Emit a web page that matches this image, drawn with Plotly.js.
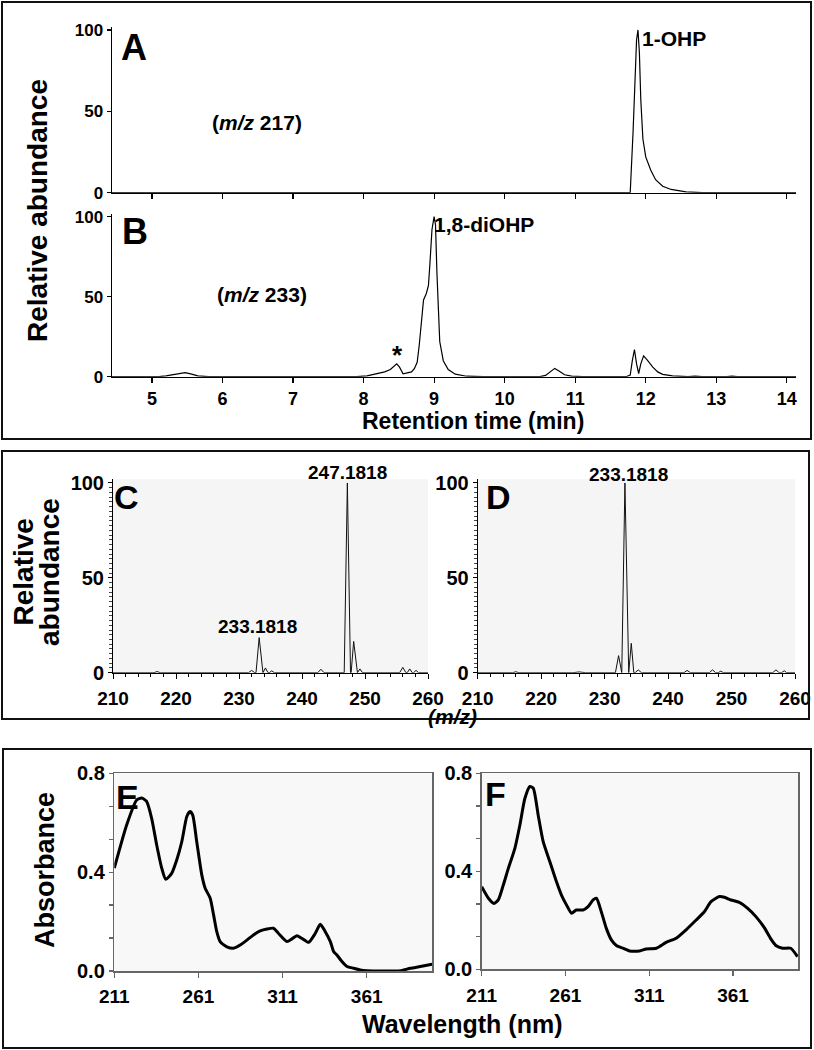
<!DOCTYPE html>
<html><head><meta charset="utf-8">
<script src="https://cdn.plot.ly/plotly-3.0.1.min.js"></script>
<style>html,body{margin:0;padding:0;background:#fff}#chart{width:814px;height:1050px}</style>
</head><body><div id="chart"></div><script>
// ---------- DATA ----------
// Panel A: extracted ion chromatogram m/z 217 (retention time, relative abundance)
const timeA = [4.43, 11.70, 11.78, 11.82, 11.85, 11.87, 11.89, 11.91, 11.93, 11.96, 12.00, 12.07, 12.14, 12.24, 12.36, 12.57, 12.80, 14.13];
const abundA = [0, 0, 0, 37, 76, 94, 100, 86, 57, 33, 22, 14, 8, 4, 2, 0.5, 0, 0];
// Panel B: extracted ion chromatogram m/z 233
const timeB = [4.43, 5.10, 5.20, 5.30, 5.40, 5.47, 5.55, 5.65, 5.80, 7.90, 8.05, 8.20, 8.30, 8.38, 8.43, 8.47, 8.51, 8.56, 8.62, 8.68, 8.72, 8.76, 8.79, 8.82, 8.85, 8.89, 8.92, 8.94, 8.97, 9.00, 9.02, 9.04, 9.06, 9.08, 9.13, 9.20, 9.30, 9.46, 9.70, 10.50, 10.58, 10.64, 10.71, 10.77, 10.85, 10.95, 11.10, 11.72, 11.78, 11.81, 11.84, 11.87, 11.90, 11.93, 11.97, 12.02, 12.10, 12.17, 12.24, 12.38, 12.60, 12.70, 12.80, 13.15, 13.22, 13.30, 14.13];
const abundB = [0, 0, 0.5, 1.2, 2.2, 2.6, 1.8, 0.5, 0, 0, 0.5, 1.8, 3, 4.5, 6.5, 8, 6, 1.8, 2.4, 3, 5, 9, 20, 36, 48, 52, 57, 70, 92, 100, 95, 65, 40, 22, 10, 4.5, 1.6, 0.3, 0, 0, 0.8, 2.8, 5.2, 3.5, 1.2, 0.4, 0, 0, 1, 10, 17, 8, 2, 8, 13, 10.5, 6, 3, 1.5, 0.5, 0, 0.4, 0, 0, 0.3, 0, 0];
// Panel C: mass spectrum (m/z, relative abundance)
const mzC = [210, 216.5, 217.0, 217.5, 231.5, 232.0, 232.5, 232.7, 233.2, 233.7, 233.8, 234.2, 234.6, 234.8, 235.2, 235.6, 242.5, 243.0, 243.5, 246.7, 247.2, 247.7, 247.8, 248.2, 248.7, 248.8, 249.2, 249.6, 255.5, 256.0, 256.5, 256.7, 257.1, 257.5, 257.7, 258.1, 258.5, 260];
const intC = [0, 0, 0.6, 0, 0, 1.2, 0, 0, 18.5, 0, 0, 2.5, 0, 0, 1, 0, 0, 1.8, 0, 0, 100, 0, 0, 16.5, 0, 0, 2, 0, 0, 2.8, 0, 0, 2, 0, 0, 1.2, 0, 0];
// Panel D: mass spectrum
const mzD = [210, 215.5, 216.0, 216.5, 225.0, 226.0, 227.0, 231.7, 232.2, 232.6, 232.7, 233.2, 233.7, 233.8, 234.2, 234.6, 234.8, 235.3, 235.8, 242.5, 243.0, 243.5, 246.5, 247.0, 247.5, 247.9, 248.3, 248.7, 256.5, 257.0, 257.5, 257.9, 258.3, 258.7, 260];
const intD = [0, 0, 0.5, 0, 0, 0.4, 0, 0, 9, 0, 0, 100, 0, 0, 15.5, 0, 0, 1.5, 0, 0, 1.2, 0, 0, 1.5, 0, 0, 0.8, 0, 0, 1.5, 0, 0, 1, 0, 0];
// Panel E: UV spectrum (wavelength nm, absorbance)
const nmE = [211, 218.3, 224.3, 227.3, 230.2, 233.2, 236.2, 239.2, 241.6, 245.1, 248.1, 251.1, 254.1, 256.0, 257.6, 260.0, 263.0, 265.0, 268.0, 270.0, 271.9, 273.9, 277.9, 281.8, 285.8, 289.8, 293.7, 297.7, 301.7, 305.6, 308.6, 313.6, 316.6, 319.5, 322.5, 326.5, 330.4, 333.4, 336.4, 339.4, 341.4, 343.3, 346.3, 349.3, 353.3, 357.2, 361.2, 381.0, 386.9, 392.9, 399.9];
const absE = [0.416, 0.59, 0.692, 0.70, 0.686, 0.618, 0.51, 0.416, 0.371, 0.395, 0.449, 0.523, 0.625, 0.645, 0.631, 0.523, 0.389, 0.335, 0.294, 0.227, 0.159, 0.119, 0.098, 0.092, 0.105, 0.125, 0.146, 0.162, 0.17, 0.173, 0.152, 0.119, 0.13, 0.143, 0.132, 0.116, 0.152, 0.189, 0.159, 0.119, 0.078, 0.065, 0.038, 0.018, 0.011, 0.004, 0.001, 0.001, 0.011, 0.018, 0.027];
// Panel F: UV spectrum
const nmF = [211, 215, 218.3, 220.9, 223.9, 226.9, 230.8, 233.8, 236.8, 239.8, 241.8, 244.7, 247.7, 251.7, 255.6, 258.6, 261.6, 264.6, 267.5, 271.5, 274.5, 277.5, 279.5, 282.4, 285.4, 288.4, 291.4, 295.3, 299.3, 305.2, 309.2, 315.2, 321.1, 327.1, 333.0, 339.0, 343.9, 347.9, 352.9, 355.9, 359.8, 364.8, 369.8, 374.7, 379.7, 383.6, 386.6, 390.6, 395.5, 399.5];
const absF = [0.337, 0.29, 0.269, 0.283, 0.344, 0.412, 0.494, 0.589, 0.698, 0.746, 0.739, 0.63, 0.521, 0.439, 0.358, 0.303, 0.263, 0.229, 0.242, 0.242, 0.256, 0.283, 0.29, 0.235, 0.167, 0.12, 0.097, 0.086, 0.075, 0.075, 0.083, 0.086, 0.11, 0.127, 0.161, 0.201, 0.235, 0.276, 0.297, 0.294, 0.283, 0.273, 0.249, 0.215, 0.17, 0.124, 0.097, 0.086, 0.086, 0.052];
// Tick labels
const rtTicks = [5, 6, 7, 8, 9, 10, 11, 12, 13, 14];
const abTicks = [0, 50, 100];
const mzTicks = [210, 220, 230, 240, 250, 260];
const nmTicks = [211, 261, 311, 361];
const absTicks = [0, 0.4, 0.8];
const absTickText = ['0.0', '0.4', '0.8'];

// ---------- LAYOUT ----------
const W = 814, H = 1050;
const FONT = 'Liberation Sans, Arial, Helvetica, sans-serif';
const px = x => x / W;
const py = y => 1 - y / H;

function ax(extra) {
  return Object.assign({
    showgrid: false, zeroline: false, showline: true, linecolor: '#000', linewidth: 1.2,
    ticks: 'outside', tickcolor: '#000', tickwidth: 1.2, ticklen: 5, fixedrange: true,
    tickfont: {family: FONT, size: 18, color: '#000', weight: 'bold'}
  }, extra);
}

const layout = {
  width: W, height: H, margin: {l: 0, r: 0, t: 0, b: 0},
  paper_bgcolor: '#fff', plot_bgcolor: 'rgba(0,0,0,0)', showlegend: false,
  font: {family: FONT, color: '#000'},
  // A
  xaxis: ax({domain: [px(111.7), px(796)], anchor: 'y', range: [4.43, 14.13], tickvals: rtTicks, showticklabels: false}),
  yaxis: ax({domain: [py(192.7), py(26.7)], anchor: 'x', range: [0, 102], tickvals: abTicks, ticklen: 4, tickfont: {family: FONT, size: 17, color: '#000', weight: 'bold'}}),
  // B
  xaxis2: ax({domain: [px(111.7), px(796)], anchor: 'y2', range: [4.43, 14.13], tickvals: rtTicks}),
  yaxis2: ax({domain: [py(376.7), py(213.5)], anchor: 'x2', range: [0, 102], tickvals: abTicks, ticklen: 4, tickfont: {family: FONT, size: 17, color: '#000', weight: 'bold'}}),
  // C
  xaxis3: ax({domain: [px(113), px(428)], anchor: 'y3', range: [210, 260], tickvals: mzTicks, linewidth: 1, tickwidth: 1, ticklabelstandoff: 3,
    minor: {dtick: 2, tick0: 210, ticklen: 3, ticks: 'outside', tickcolor: '#000'}, tickfont: {family: FONT, size: 19, color: '#000', weight: 'bold'}}),
  yaxis3: ax({domain: [py(672.7), py(479.2)], anchor: 'x3', range: [0, 102], tickvals: abTicks, linewidth: 1, tickwidth: 1, ticklen: 4,
    minor: {dtick: 2.5, tick0: 0, ticklen: 3, ticks: 'outside', tickcolor: '#444'}, tickfont: {family: FONT, size: 20, color: '#000', weight: 'bold'}}),
  // D
  xaxis4: ax({domain: [px(477.7), px(795)], anchor: 'y4', range: [210, 260], tickvals: mzTicks, linewidth: 1, tickwidth: 1, ticklabelstandoff: 3,
    minor: {dtick: 2, tick0: 210, ticklen: 3, ticks: 'outside', tickcolor: '#000'}, tickfont: {family: FONT, size: 19, color: '#000', weight: 'bold'}}),
  yaxis4: ax({domain: [py(672.7), py(479.2)], anchor: 'x4', range: [0, 102], tickvals: abTicks, linewidth: 1, tickwidth: 1, ticklen: 4,
    minor: {dtick: 2.5, tick0: 0, ticklen: 3, ticks: 'outside', tickcolor: '#444'}, tickfont: {family: FONT, size: 20, color: '#000', weight: 'bold'}}),
  // E
  xaxis5: ax({domain: [px(114.3), px(432.3)], anchor: 'y5', range: [211, 400], tickvals: nmTicks, mirror: true, linecolor: '#666', tickcolor: '#666', linewidth: 1.5,
    ticklabelstandoff: 3, tickfont: {family: FONT, size: 19, color: '#000', weight: 'bold'}}),
  yaxis5: ax({domain: [py(971), py(773.3)], anchor: 'x5', range: [0, 0.8], tickvals: absTicks, ticktext: absTickText, mirror: true, linecolor: '#666', tickcolor: '#666', linewidth: 1.5, ticklen: 4,
    minor: {dtick: 0.4 / 3, tick0: 0, ticklen: 4, ticks: 'outside', tickcolor: '#666'}, tickfont: {family: FONT, size: 20, color: '#000', weight: 'bold'}}),
  // F
  xaxis6: ax({domain: [px(481.7), px(798.3)], anchor: 'y6', range: [211, 400], tickvals: nmTicks, mirror: true, linecolor: '#666', tickcolor: '#666', linewidth: 1.5,
    ticklabelstandoff: 3, tickfont: {family: FONT, size: 19, color: '#000', weight: 'bold'}}),
  yaxis6: ax({domain: [py(969.3), py(773.3)], anchor: 'x6', range: [0, 0.8], tickvals: absTicks, ticktext: absTickText, mirror: true, linecolor: '#666', tickcolor: '#666', linewidth: 1.5, ticklen: 4,
    minor: {dtick: 0.4 / 3, tick0: 0, ticklen: 4, ticks: 'outside', tickcolor: '#666'}, tickfont: {family: FONT, size: 20, color: '#000', weight: 'bold'}}),
  shapes: [],
  annotations: []
};

// panel group frames
function frame(x0, y0, x1, y1) {
  layout.shapes.push({type: 'rect', xref: 'paper', yref: 'paper', x0: px(x0), x1: px(x1), y0: py(y1), y1: py(y0),
    line: {color: '#111', width: 2}, fillcolor: 'rgba(0,0,0,0)', layer: 'above'});
}
frame(2, 2, 811, 439);
frame(2, 451, 809, 719);
frame(3, 749, 811, 1048);

// light plot backgrounds
[['x3', 'y3', '#f5f5f5'], ['x4', 'y4', '#f5f5f5'], ['x5', 'y5', '#f8f8f8'], ['x6', 'y6', '#f8f8f8']].forEach(([xa, ya, c]) => {
  layout.shapes.push({type: 'rect', xref: xa + ' domain', yref: ya + ' domain', x0: 0, x1: 1, y0: 0, y1: 1,
    line: {width: 0}, fillcolor: c, layer: 'below'});
});

function ann(text, x, y, size, opt) {
  layout.annotations.push(Object.assign({
    text: text, xref: 'paper', yref: 'paper', x: px(x), y: py(y), xanchor: 'center', yanchor: 'middle',
    showarrow: false, font: {family: FONT, size: size, color: '#000', weight: 'bold'}
  }, opt || {}));
}
// group 1
ann('Relative abundance', 37, 211, 28, {textangle: -90});
ann('A', 134, 47, 36);
ann('B', 134.5, 231.5, 36);
ann('(<i>m/z</i> 217)', 257, 123, 21);
ann('(<i>m/z</i> 233)', 262, 294, 21);
ann('1-OHP', 640, 38, 21, {xanchor: 'left'});
ann('1,8-diOHP', 432, 224, 21, {xanchor: 'left'});
ann('*', 397, 355, 26);
ann('Retention time (min)', 473, 421, 23);
// group 2
ann('Relative', 22.5, 572, 28, {textangle: -90});
ann('abundance', 49, 572, 28, {textangle: -90});
ann('C', 126, 497, 34);
ann('D', 498.5, 497, 34);
ann('247.1818', 347.5, 472, 19);
ann('233.1818', 257.5, 626, 19);
ann('233.1818', 628, 475, 19);
ann('<i>(m/z)</i>', 452, 716, 21);
// group 3
ann('Absorbance', 45, 870, 27, {textangle: -90});
ann('E', 127, 797, 34);
ann('F', 495, 794, 34);
ann('Wavelength (nm)', 462, 1024, 25);

const traces = [
  {x: timeA, y: abundA, xaxis: 'x', yaxis: 'y', mode: 'lines', line: {color: '#000', width: 1.2}},
  {x: timeB, y: abundB, xaxis: 'x2', yaxis: 'y2', mode: 'lines', line: {color: '#000', width: 1.2}},
  {x: mzC, y: intC, xaxis: 'x3', yaxis: 'y3', mode: 'lines', line: {color: '#111', width: 1}},
  {x: mzD, y: intD, xaxis: 'x4', yaxis: 'y4', mode: 'lines', line: {color: '#111', width: 1}},
  {x: nmE, y: absE, xaxis: 'x5', yaxis: 'y5', mode: 'lines', line: {color: '#000', width: 3, shape: 'spline', smoothing: 0.6}},
  {x: nmF, y: absF, xaxis: 'x6', yaxis: 'y6', mode: 'lines', line: {color: '#000', width: 3, shape: 'spline', smoothing: 0.6}}
];

Plotly.newPlot('chart', traces, layout, {staticPlot: true, displayModeBar: false});
</script></body></html>
